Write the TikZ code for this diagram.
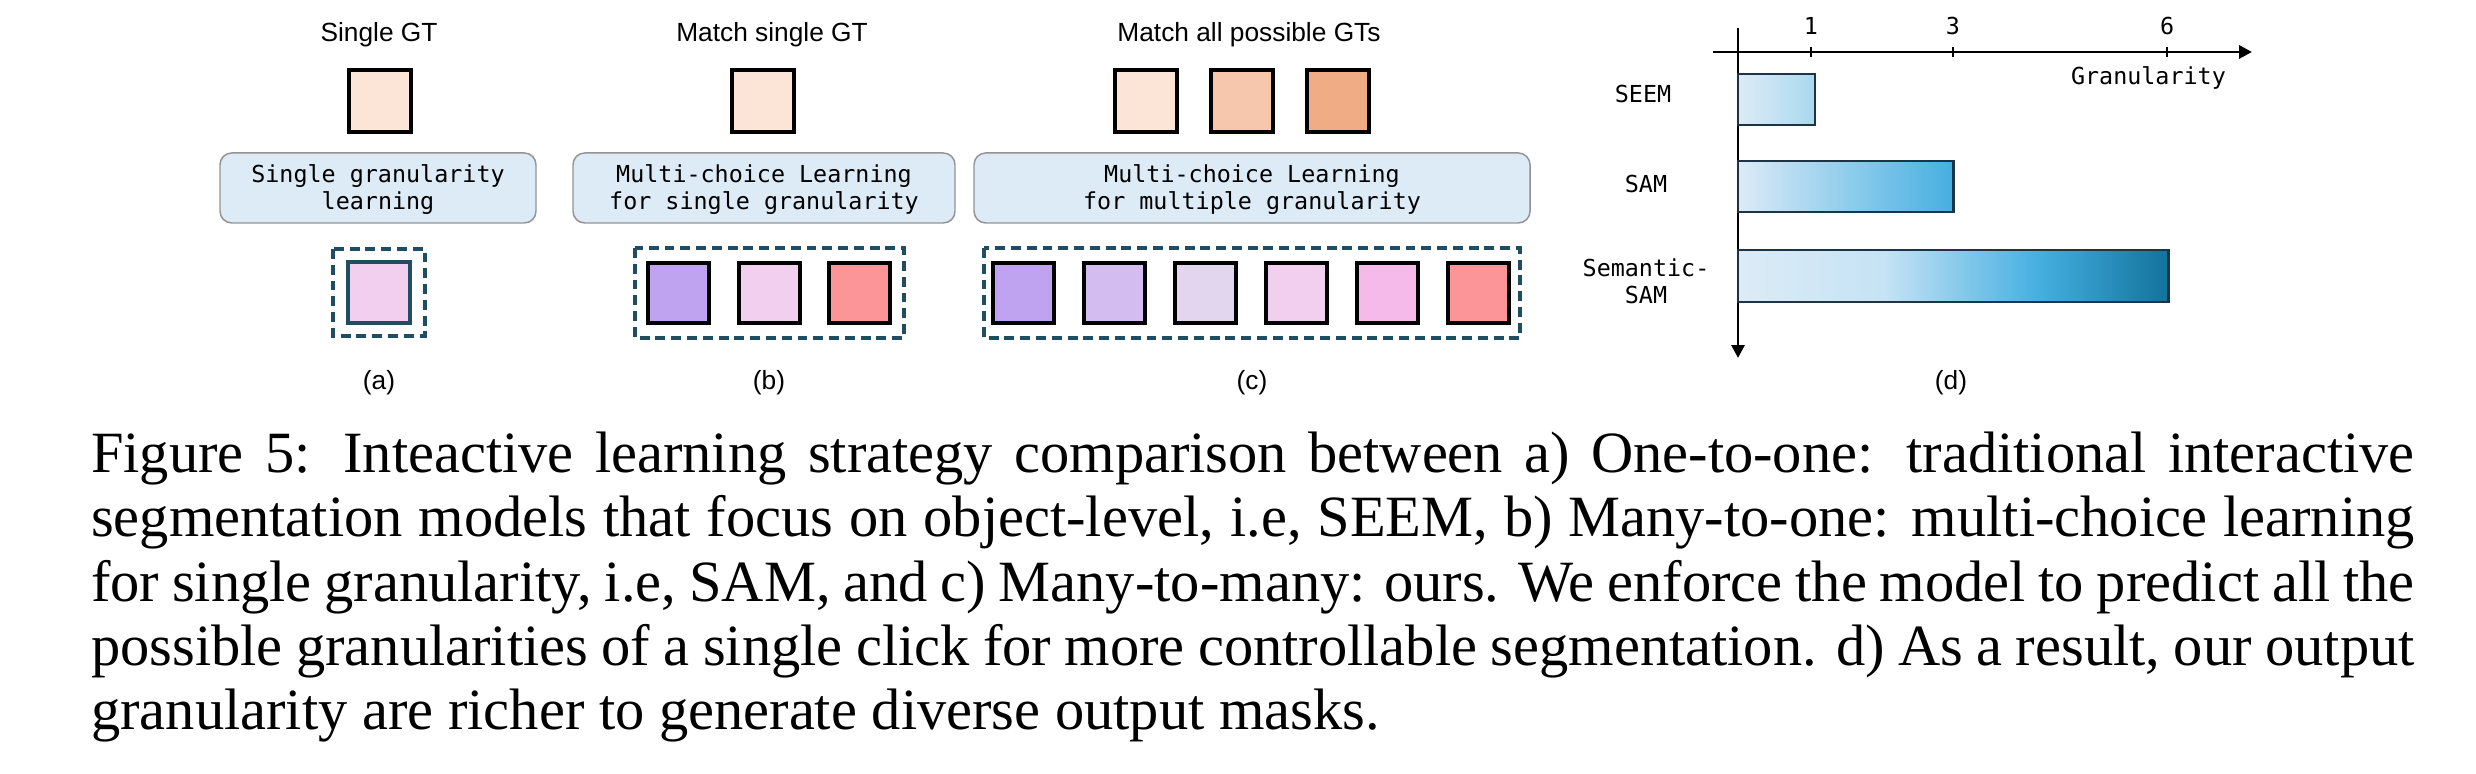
\documentclass[tikz,border=0pt]{standalone}
\usepackage{fontspec}
\setmainfont{Liberation Serif}
\setsansfont{Liberation Sans}
\setmonofont{DejaVu Sans Mono}
\usetikzlibrary{arrows.meta}

\definecolor{gtA}{HTML}{FCE4D6}
\definecolor{gtB}{HTML}{F6C6AD}
\definecolor{gtC}{HTML}{F0AC85}
\definecolor{predA}{HTML}{BFA2F0}
\definecolor{predB}{HTML}{D3BDF0}
\definecolor{predC}{HTML}{E2D5EE}
\definecolor{predD}{HTML}{F2CEEF}
\definecolor{predE}{HTML}{F5BAE9}
\definecolor{predF}{HTML}{FB9597}
\definecolor{learnblue}{HTML}{DDEBF7}
\definecolor{groupteal}{HTML}{1F4E63}
\definecolor{bardraw}{HTML}{1C3446}
\definecolor{barlo}{HTML}{DDEBF7}
\definecolor{barseem}{HTML}{A9D8EF}
\definecolor{barmid}{HTML}{C5E3F4}
\definecolor{barhi}{HTML}{45AFE1}
\definecolor{bardark}{HTML}{12739C}

\pgfdeclarehorizontalshading{semshade}{100bp}{color(0bp)=(barlo); color(25bp)=(barlo);
  color(42bp)=(barmid); color(60bp)=(barhi); color(75bp)=(bardark); color(100bp)=(bardark)}

\begin{document}
\begin{tikzpicture}[x=0.1711pt,y=-0.1711pt,
    title/.style={font=\sffamily\fontsize{4.5}{5.4}\selectfont, anchor=base, inner sep=0pt},
    sublabel/.style={font=\sffamily\fontsize{4.5}{5.4}\selectfont, inner sep=0pt},
    monotext/.style={font=\ttfamily\fontsize{4}{4.62}\selectfont, align=center, inner sep=0pt},
    gtbox/.style={draw=black, line width=0.6pt},
    predbox/.style={draw=black, line width=0.55pt},
    learnbox/.style={draw=gray!85, fill=learnblue, rounded corners=2pt, line width=0.25pt},
    groupbox/.style={draw=groupteal, dash pattern=on 1.7pt off 1pt, line width=0.6pt},
    axisline/.style={line width=0.5pt, -{Triangle[length=2.2pt,width=2.2pt]}},
    bar/.style={draw=bardraw, line width=0.5pt},
    caption/.style={anchor=north west, inner sep=0pt, text width=397.5pt, align=justify,
      font=\rmfamily\fontsize{10}{11}\selectfont}]
  \useasboundingbox (0,0) rectangle (2476,774);

  % (a) one-to-one
  \node[title] (titleA) at (379,42) {Single GT};
  \draw[gtbox, fill=gtA] (349,70) rectangle (411,132);
  \draw[learnbox] (220,153) rectangle (536,223);
  \node[monotext] (learnA) at (378,190) {Single granularity\\learning};
  \draw[groupbox] (333,249) rectangle (425,336);
  \draw[draw=groupteal, line width=0.6pt, fill=predD] (348,262) rectangle (410,323);
  \node[sublabel] (subA) at (379,383) {(a)};

  % (b) many-to-one
  \node[title] (titleB) at (772,42) {Match single GT};
  \draw[gtbox, fill=gtA] (732,70) rectangle (794,132);
  \draw[learnbox] (573,153) rectangle (955,223);
  \node[monotext] (learnB) at (764,190) {Multi-choice Learning\\for single granularity};
  \draw[groupbox] (635,248) rectangle (904,338);
  \foreach \x/\c in {648/predA, 739/predD, 829/predF}
    \draw[predbox, fill=\c] (\x,263) rectangle ++(61,60);
  \node[sublabel] (subB) at (769,383) {(b)};

  % (c) many-to-many
  \node[title] (titleC) at (1249,42) {Match all possible GTs};
  \foreach \x/\c in {1115/gtA, 1211/gtB, 1307/gtC}
    \draw[gtbox, fill=\c] (\x,70) rectangle ++(62,62);
  \draw[learnbox] (974,153) rectangle (1530,223);
  \node[monotext] (learnC) at (1252,190) {Multi-choice Learning\\for multiple granularity};
  \draw[groupbox] (984,248) rectangle (1520,338);
  \foreach \x/\c in {993/predA, 1084/predB, 1175/predC, 1266/predD, 1357/predE, 1448/predF}
    \draw[predbox, fill=\c] (\x,263) rectangle ++(61,60);
  \node[sublabel] (subC) at (1252,383) {(c)};

  % (d) granularity chart
  \coordinate (origin) at (1738,52);
  \draw[axisline] (1713,52) -- (2252,52);
  \draw[axisline] (1738,28) -- (1738,358);
  \foreach \v/\x in {1/1811, 3/1953, 6/2167} {
    \draw[line width=0.4pt] (\x,47) -- (\x,57);
    \node[monotext, anchor=base] (tick\v) at (\x,35) {\v};
  }
  \node[monotext, anchor=base east] (gran) at (2227,85) {Granularity};
  \draw[bar, left color=barlo, right color=barseem] (1738,74) rectangle (1815,125);
  \draw[bar, left color=barlo, right color=barhi] (1738,161) rectangle (1953,212);
  \draw[bar, shade, shading=semshade] (1738,250) rectangle (2168,302);
  \node[monotext, anchor=base] (seem) at (1643,103) {SEEM};
  \node[monotext, anchor=base] (sam) at (1646,193) {SAM};
  \node[monotext] (semsam) at (1646,281) {Semantic-\\SAM};
  \node[sublabel] (subD) at (1951,383) {(d)};

  % caption
  \node[caption] (cap) at (90,431) {Figure 5: Inteactive learning strategy comparison between a) One-to-one: traditional interactive\linebreak
    segmentation models that focus on object-level, i.e, SEEM, b) Many-to-one: multi-choice learning\linebreak
    for single granularity, i.e, SAM, and c) Many-to-many: ours. We enforce the model to predict all the\linebreak
    possible granularities of a single click for more controllable segmentation. d) As a result, our output\linebreak
    granularity are richer to generate diverse output masks.};
\end{tikzpicture}
\end{document}
